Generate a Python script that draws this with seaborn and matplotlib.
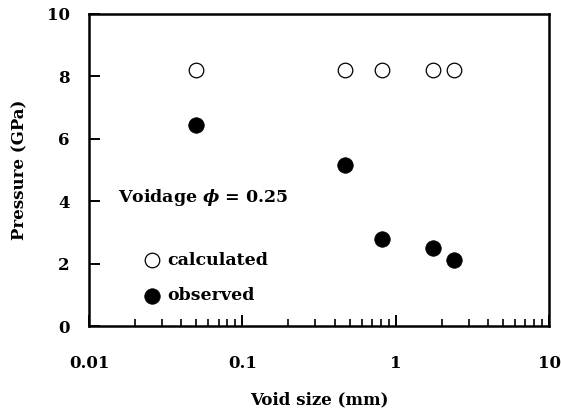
import matplotlib
matplotlib.use("Agg")
import matplotlib.pyplot as plt
import matplotlib.ticker as mticker
import numpy as np
import pandas as pd
import seaborn as sns

# Void sizes (mm) and pressures (GPa)
void_size = [0.05, 0.47, 0.82, 1.75, 2.40]
calculated = [8.2, 8.2, 8.2, 8.2, 8.2]
observed = [6.43, 5.15, 2.79, 2.49, 2.10]
x_ticks = [0.01, 0.1, 1, 10]
x_tick_labels = ["0.01", "0.1", "1", "10"]
y_ticks = [0, 2, 4, 6, 8, 10]

sns.set_style("ticks")
plt.rcParams["font.family"] = ["DejaVu Serif"]
plt.rcParams["font.weight"] = "bold"
plt.rcParams["text.color"] = "black"
plt.rcParams["axes.labelcolor"] = "black"
plt.rcParams["xtick.color"] = "black"
plt.rcParams["ytick.color"] = "black"
plt.rcParams["mathtext.fontset"] = "custom"
plt.rcParams["mathtext.it"] = "DejaVu Serif:italic:bold"
plt.rcParams["mathtext.rm"] = "DejaVu Serif:bold"

df = pd.DataFrame({
    "size": void_size * 2,
    "pressure": calculated + observed,
    "kind": ["calculated"] * len(void_size) + ["observed"] * len(void_size),
})

fig = plt.figure(figsize=(5.61, 4.15), dpi=100)
ax = fig.add_axes([89 / 561, 89 / 415, 460 / 561, 312 / 415])

sns.scatterplot(data=df[df["kind"] == "calculated"], x="size", y="pressure",
                ax=ax, marker="o", s=110, facecolor="white",
                edgecolor="black", linewidth=0.9, label="calculated", zorder=3)
sns.scatterplot(data=df[df["kind"] == "observed"], x="size", y="pressure",
                ax=ax, marker="o", s=125, color="black",
                edgecolor="black", linewidth=0.5, label="observed", zorder=3)

ax.set_xscale("log")
ax.set_xlim(0.01, 10)
ax.set_ylim(0, 10)
ax.set_xticks(x_ticks)
ax.set_xticklabels(x_tick_labels)
ax.xaxis.set_minor_locator(mticker.LogLocator(base=10, subs=np.arange(2, 10)))
ax.xaxis.set_minor_formatter(mticker.NullFormatter())
ax.set_yticks(y_ticks)

for side in ax.spines.values():
    side.set_linewidth(1.8)
    side.set_color("black")

ax.tick_params(axis="x", which="major", direction="in", length=8, width=1.4,
               pad=21, labelsize=12)
ax.tick_params(axis="x", which="minor", direction="in", length=5, width=1.2)
ax.tick_params(axis="y", which="major", direction="in", length=8, width=1.4,
               pad=14, labelsize=12)
ax.tick_params(axis="y", which="minor", left=False)

ax.set_xlabel("Void size (mm)", fontsize=12, fontweight="bold", labelpad=14)
ax.set_ylabel("Pressure (GPa)", fontsize=12, fontweight="bold", labelpad=13)

ax.text(0.063, 0.413, r"Voidage $\phi$ = 0.25", transform=ax.transAxes,
        fontsize=12.5, fontweight="bold", va="center", ha="left")

ax.legend(loc="upper left", bbox_to_anchor=(0.103, 0.237), frameon=False,
          handlelength=1.8, handletextpad=0.0, borderpad=0, borderaxespad=0,
          labelspacing=1.05, prop={"size": 12.5, "weight": "bold"})

fig.savefig("out.png", dpi=100)
